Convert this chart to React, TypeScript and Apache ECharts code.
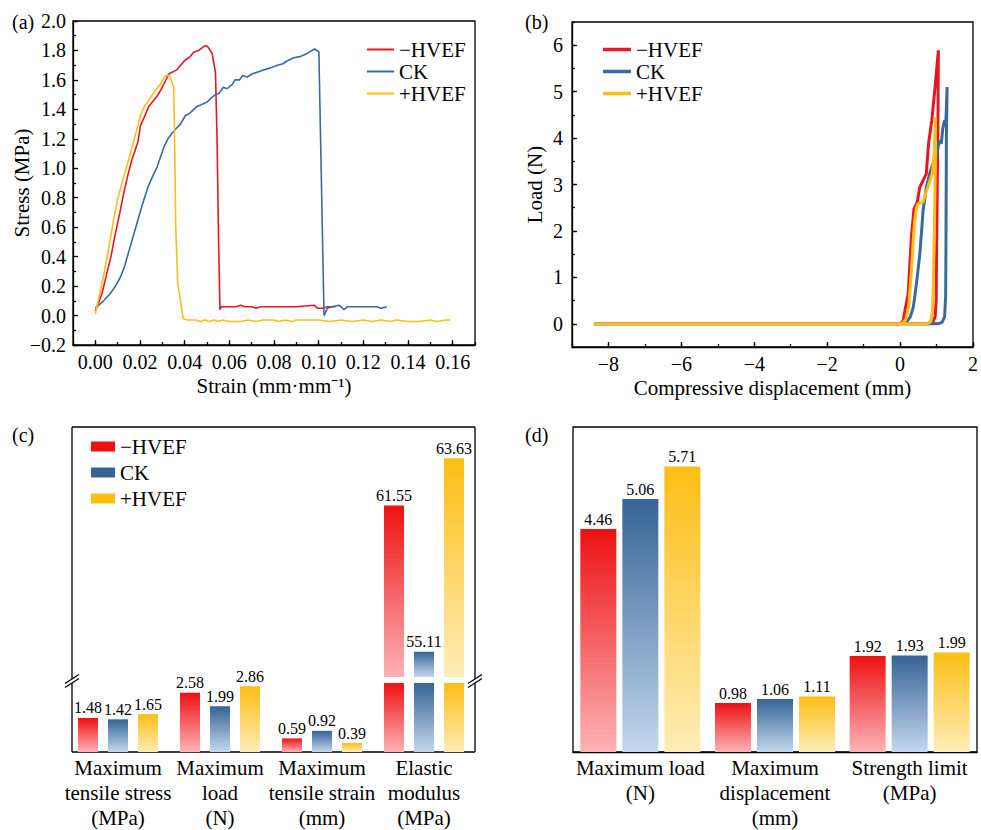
import React, { useEffect, useRef } from 'react';
import * as echarts from 'echarts';

const SERIF = "'Liberation Serif', 'Times New Roman', Times, serif";

const SERIES_NAMES = ['−HVEF', 'CK', '+HVEF'];
const LINE_COLORS = ['#EA1520', '#3A6A9D', '#FBBD1B'];
const BAR_TOP = ['#EE1112', '#356496', '#FDBE14'];
const BAR_BOTTOM = ['#FDB3B6', '#C4D7EE', '#FEEDB8'];

// (a) tensile stress–strain curves: [strain, stress]
const tensileNeg = [
  [0.0, 0.03], [0.003, 0.15], [0.0052, 0.29], [0.007, 0.4], [0.009, 0.56], [0.011, 0.7],
  [0.0127, 0.83], [0.0145, 0.95], [0.0164, 1.06], [0.018, 1.13], [0.0191, 1.18], [0.0202, 1.29],
  [0.022, 1.35], [0.0239, 1.42], [0.0277, 1.49], [0.03, 1.55], [0.0329, 1.64], [0.0366, 1.67],
  [0.0399, 1.73], [0.0426, 1.76], [0.0441, 1.79], [0.0463, 1.8], [0.0488, 1.83], [0.0501, 1.83],
  [0.0523, 1.78], [0.0538, 1.65], [0.0545, 1.2], [0.0552, 0.5], [0.0558, 0.04], [0.0565, 0.06],
  [0.06, 0.06], [0.063, 0.06], [0.065, 0.07], [0.067, 0.06], [0.07, 0.06], [0.072, 0.05],
  [0.074, 0.06], [0.08, 0.06], [0.09, 0.06], [0.0979, 0.07], [0.0995, 0.05], [0.102, 0.05],
  [0.104, 0.06], [0.1075, 0.06],
];
const tensileCK = [
  [0.0, 0.05], [0.0037, 0.1], [0.0067, 0.15], [0.009, 0.2], [0.0112, 0.26], [0.013, 0.33],
  [0.0149, 0.43], [0.0168, 0.53], [0.0187, 0.63], [0.021, 0.75], [0.0235, 0.87], [0.0255, 0.94],
  [0.0277, 1.01], [0.0306, 1.14], [0.0325, 1.2], [0.0344, 1.24], [0.0362, 1.27], [0.0381, 1.3],
  [0.0404, 1.36], [0.042, 1.37], [0.0434, 1.39], [0.0455, 1.42], [0.0471, 1.43], [0.0501, 1.45],
  [0.052, 1.48], [0.0538, 1.5], [0.0555, 1.51], [0.0573, 1.55], [0.059, 1.54], [0.0613, 1.57],
  [0.0625, 1.6], [0.0645, 1.6], [0.066, 1.63], [0.068, 1.62], [0.0701, 1.64], [0.074, 1.66],
  [0.078, 1.68], [0.0815, 1.7], [0.084, 1.71], [0.086, 1.73], [0.0889, 1.75], [0.092, 1.76],
  [0.0949, 1.78], [0.0982, 1.81], [0.1001, 1.79], [0.1024, 0.0], [0.1039, 0.05], [0.106, 0.06],
  [0.109, 0.07], [0.11, 0.06], [0.1113, 0.04], [0.113, 0.06], [0.12, 0.06], [0.126, 0.06],
  [0.128, 0.05], [0.1305, 0.06],
];
const tensilePos = [
  [0.0, 0.01], [0.002, 0.15], [0.0037, 0.27], [0.006, 0.46], [0.0082, 0.65], [0.01, 0.79],
  [0.0119, 0.9], [0.014, 1.01], [0.0157, 1.1], [0.018, 1.23], [0.0202, 1.36], [0.022, 1.42],
  [0.0239, 1.46], [0.0269, 1.53], [0.0291, 1.57], [0.0314, 1.63], [0.0333, 1.63], [0.0351, 1.55],
  [0.0355, 1.2], [0.036, 0.6], [0.0369, 0.22], [0.0393, -0.02], [0.0411, -0.03], [0.045, -0.03],
  [0.047, -0.04], [0.049, -0.03], [0.051, -0.04], [0.053, -0.03], [0.055, -0.04], [0.057, -0.03],
  [0.06, -0.04], [0.065, -0.04], [0.068, -0.03], [0.072, -0.04], [0.075, -0.03], [0.08, -0.03],
  [0.082, -0.04], [0.085, -0.03], [0.088, -0.04], [0.09, -0.03], [0.095, -0.03], [0.1, -0.03],
  [0.105, -0.04], [0.11, -0.03], [0.115, -0.04], [0.12, -0.03], [0.124, -0.04], [0.128, -0.03],
  [0.132, -0.04], [0.135, -0.03], [0.14, -0.04], [0.145, -0.04], [0.15, -0.03], [0.153, -0.04],
  [0.157, -0.03], [0.159, -0.03],
];
const strainTicks = [0, 0.02, 0.04, 0.06, 0.08, 0.1, 0.12, 0.14, 0.16];

// (b) compression load–displacement curves: [displacement, load]
const compressNeg = [
  [-8.4, 0], [-4, 0], [0, 0], [0.08, 0.06], [0.22, 0.64], [0.31, 1.86], [0.38, 2.47],
  [0.47, 2.62], [0.54, 2.94], [0.63, 3.09], [0.72, 3.23], [0.78, 3.88], [0.87, 4.38],
  [0.96, 5.1], [1.05, 5.89], [1.04, 4.5], [1.02, 3.0], [1.0, 1.5], [0.99, 0.5], [0.96, 0.15],
  [0.9, 0.03], [0.8, 0], [0, 0],
];
const compressCK = [
  [-8.4, 0], [-4, 0], [0, 0], [0.1, 0], [0.17, 0.03], [0.28, 0.15], [0.36, 0.35], [0.4, 0.57],
  [0.47, 1.0], [0.54, 1.5], [0.6, 2.1], [0.63, 2.44], [0.68, 2.7], [0.72, 2.94], [0.81, 3.23],
  [0.88, 3.4], [0.95, 3.55], [0.99, 3.59], [1.04, 3.8], [1.08, 3.95], [1.13, 3.88], [1.17, 4.2],
  [1.22, 4.38], [1.25, 4.24], [1.29, 5.1], [1.27, 4.0], [1.26, 2.0], [1.25, 0.6], [1.22, 0.15],
  [1.15, 0.03], [1.04, 0], [0, 0],
];
const compressPos = [
  [-8.4, 0], [-4, 0], [0, 0], [0.08, 0.02], [0.16, 0.1], [0.24, 0.4], [0.31, 1.14], [0.36, 1.8],
  [0.4, 2.22], [0.45, 2.5], [0.49, 2.58], [0.56, 2.6], [0.63, 2.62], [0.7, 2.8], [0.76, 2.94],
  [0.85, 3.16], [0.88, 3.23], [0.93, 3.59], [0.95, 4.0], [0.97, 4.45], [0.97, 3.5], [0.94, 2.0],
  [0.91, 0.8], [0.89, 0.3], [0.85, 0.06], [0.76, 0], [0, 0],
];
const dispTicks = [-8, -6, -4, -2, 0, 2];
const loadTicks = [0, 1, 2, 3, 4, 5, 6];

// (c) tensile property summary
const tensileCategories = [
  'Maximum\ntensile stress\n(MPa)',
  'Maximum\nload\n(N)',
  'Maximum\ntensile strain\n(mm)',
  'Elastic\nmodulus\n(MPa)',
];
const tensileNegValues = [1.48, 2.58, 0.59, 61.55];
const tensileCKValues = [1.42, 1.99, 0.92, 55.11];
const tensilePosValues = [1.65, 2.86, 0.39, 63.63];
const MODULUS_INDEX = 3;

// (d) compression property summary
const compressCategories = ['Maximum load\n(N)', 'Maximum\ndisplacement\n(mm)', 'Strength limit\n(MPa)'];
const compressNegValues = [4.46, 0.98, 1.92];
const compressCKValues = [5.06, 1.06, 1.93];
const compressPosValues = [5.71, 1.11, 1.99];

const BLACK = '#000';
const lineStyle = { color: BLACK, width: 1.3 };
const tickFont = { fontSize: 20, color: BLACK, fontFamily: SERIF };
const nameFont = { fontSize: 21, color: BLACK, fontFamily: SERIF };
const minus = (s: string) => s.replace('-', '−');

const gradient = (i: number) =>
  new echarts.graphic.LinearGradient(0, 0, 0, 1, [
    { offset: 0, color: BAR_TOP[i] },
    { offset: 1, color: BAR_BOTTOM[i] },
  ]);

const barLabel = {
  show: true,
  position: 'top',
  distance: 2,
  fontSize: 16,
  color: BLACK,
  fontFamily: SERIF,
};

function buildOption() {
  const tensileSets = [tensileNeg, tensileCK, tensilePos];
  const compressSets = [compressNeg, compressCK, compressPos];
  const cSets = [tensileNegValues, tensileCKValues, tensilePosValues];
  const dSets = [compressNegValues, compressCKValues, compressPosValues];

  const series: any[] = [];
  tensileSets.forEach((d, i) =>
    series.push({
      type: 'line', name: SERIES_NAMES[i], xAxisIndex: 0, yAxisIndex: 0, data: d,
      symbol: 'none', lineStyle: { color: LINE_COLORS[i], width: 1.6 }, itemStyle: { color: LINE_COLORS[i] },
    })
  );
  compressSets.forEach((d, i) =>
    series.push({
      type: 'line', name: SERIES_NAMES[i], xAxisIndex: 2, yAxisIndex: 2, data: d,
      symbol: 'none', lineStyle: { color: LINE_COLORS[i], width: 3 }, itemStyle: { color: LINE_COLORS[i] },
    })
  );
  // (c) upper segment: only the elastic modulus bars
  cSets.forEach((vals, i) =>
    series.push({
      type: 'bar', name: SERIES_NAMES[i], xAxisIndex: 4, yAxisIndex: 4,
      data: vals.map((v, k) => (k === MODULUS_INDEX ? v : '-')),
      barWidth: 20, barGap: '50%', itemStyle: { color: gradient(i) }, label: barLabel,
    })
  );
  // (c) lower segment: all bars, the modulus bars cut at the break
  cSets.forEach((vals, i) =>
    series.push({
      type: 'bar', name: SERIES_NAMES[i], xAxisIndex: 5, yAxisIndex: 5,
      data: vals.map((v, k) => (k === MODULUS_INDEX ? { value: v, label: { show: false } } : v)),
      barWidth: 20, barGap: '50%', itemStyle: { color: gradient(i) }, label: barLabel,
    })
  );
  dSets.forEach((vals, i) =>
    series.push({
      type: 'bar', name: SERIES_NAMES[i], xAxisIndex: 6, yAxisIndex: 6, data: vals,
      barWidth: 36, barGap: '16.7%', itemStyle: { color: gradient(i) }, label: barLabel,
    })
  );

  const hiddenValue = (gridIndex: number, min: number, max: number) => ({
    type: 'value', gridIndex, min, max, show: false, splitLine: { show: false },
  });

  // frame of panel (c) with break marks on both sides
  const fx0 = 72, fx1 = 475, fy0 = 427, fy1 = 752, gapTop = 679, gapBot = 683;
  const frameLine = (x1: number, y1: number, x2: number, y2: number) => ({
    type: 'line', shape: { x1, y1, x2, y2 }, style: { stroke: BLACK, lineWidth: 1.3 },
  });
  const breakMarks = (cx: number) => [
    frameLine(cx - 7, gapTop + 4.5, cx + 7, gapTop - 4.5),
    frameLine(cx - 7, gapBot + 4.5, cx + 7, gapBot - 4.5),
  ];
  const panelLabel = (text: string, x: number, y: number) => ({
    type: 'text', x, y, style: { text, fontSize: 20, fontFamily: SERIF, fill: BLACK },
  });

  const lineLegend = (left: number, width: number, thickness: number) => ({
    left, top: 34, orient: 'vertical', itemWidth: width, itemHeight: thickness, itemGap: 1,
    textStyle: { ...nameFont, lineHeight: 20 },
    data: SERIES_NAMES.map((n, i) => ({ name: n, icon: 'rect', itemStyle: { color: LINE_COLORS[i] } })),
    selectedMode: false,
  });

  return {
    animation: false,
    backgroundColor: '#fff',
    textStyle: { fontFamily: SERIF },
    grid: [
      { left: 73, top: 21, width: 402, height: 324, show: true, borderColor: BLACK, borderWidth: 1.3 },
      { left: 572, top: 22, width: 402, height: 325, show: true, borderColor: BLACK, borderWidth: 1.3 },
      { left: 67, top: 427, width: 408, height: 250 },
      { left: 67, top: 683, width: 408, height: 69 },
      { left: 573, top: 427, width: 404, height: 325, show: true, borderColor: BLACK, borderWidth: 1.3 },
    ],
    xAxis: [
      {
        type: 'value', gridIndex: 0, min: -0.01, max: 0.17, position: 'bottom',
        axisLine: { onZero: false, lineStyle },
        axisTick: { inside: true, length: 5, customValues: strainTicks, lineStyle },
        axisLabel: { ...tickFont, margin: 7, customValues: strainTicks, formatter: (v: number) => v.toFixed(2) },
        splitLine: { show: false },
        name: 'Strain (mm·mm⁻¹)', nameLocation: 'middle', nameGap: 30, nameTextStyle: nameFont,
      },
      {
        type: 'value', gridIndex: 0, min: -0.01, max: 0.17, interval: 0.01, position: 'bottom',
        axisLine: { show: false, onZero: false }, axisTick: { inside: true, length: 3, lineStyle },
        axisLabel: { show: false }, splitLine: { show: false },
      },
      {
        type: 'value', gridIndex: 1, min: -9, max: 2, position: 'bottom',
        axisLine: { onZero: false, lineStyle },
        axisTick: { inside: true, length: 5, customValues: dispTicks, lineStyle },
        axisLabel: { ...tickFont, margin: 7, customValues: dispTicks, formatter: (v: number) => minus(String(v)) },
        splitLine: { show: false },
        name: 'Compressive displacement (mm)', nameLocation: 'middle', nameGap: 30, nameTextStyle: nameFont,
      },
      {
        type: 'value', gridIndex: 1, min: -9, max: 2, interval: 1, position: 'bottom',
        axisLine: { show: false, onZero: false }, axisTick: { inside: true, length: 3, lineStyle },
        axisLabel: { show: false }, splitLine: { show: false },
      },
      { type: 'category', gridIndex: 2, data: tensileCategories, show: false },
      {
        type: 'category', gridIndex: 3, data: tensileCategories,
        axisLine: { show: false }, axisTick: { show: false },
        axisLabel: { ...nameFont, lineHeight: 25, margin: 3, interval: 0 },
      },
      {
        type: 'category', gridIndex: 4, data: compressCategories,
        axisLine: { lineStyle }, axisTick: { show: false },
        axisLabel: { ...nameFont, lineHeight: 25, margin: 3, interval: 0 },
      },
    ],
    yAxis: [
      {
        type: 'value', gridIndex: 0, min: -0.2, max: 2.0, interval: 0.2, position: 'left',
        axisLine: { onZero: false, lineStyle },
        axisTick: { inside: true, length: 5, lineStyle },
        minorTick: { show: true, splitNumber: 2, length: 3, lineStyle },
        axisLabel: { ...tickFont, margin: 7, formatter: (v: number) => minus(v.toFixed(1)) },
        splitLine: { show: false }, minorSplitLine: { show: false },
        name: 'Stress (MPa)', nameLocation: 'middle', nameGap: 41, nameRotate: 90,
        nameMoveOverlap: false, nameTextStyle: nameFont,
      },
      {
        type: 'value', gridIndex: 0, min: -0.2, max: 2.0, interval: 0.2, show: false, splitLine: { show: false },
      },
      {
        type: 'value', gridIndex: 1, min: -0.5, max: 6.5, position: 'left',
        axisLine: { onZero: false, lineStyle },
        axisTick: { inside: true, length: 5, customValues: loadTicks, lineStyle },
        axisLabel: { ...tickFont, margin: 9, customValues: loadTicks },
        splitLine: { show: false },
        name: 'Load (N)', nameLocation: 'middle', nameGap: 27, nameRotate: 90, nameTextStyle: nameFont,
      },
      {
        type: 'value', gridIndex: 1, min: -0.5, max: 6.5, interval: 0.5, position: 'left',
        axisLine: { show: false, onZero: false }, axisTick: { inside: true, length: 3, lineStyle },
        axisLabel: { show: false }, splitLine: { show: false },
      },
      hiddenValue(2, 54, 65),
      hiddenValue(3, 0, 3),
      hiddenValue(4, 0, 6.5),
    ],
    legend: [
      lineLegend(362, 27, 2),
      lineLegend(598, 28, 3.5),
      {
        left: 86, top: 431, orient: 'vertical', itemWidth: 24, itemHeight: 10, itemGap: 5,
        textStyle: { ...nameFont, lineHeight: 20 },
        data: SERIES_NAMES.map((n, i) => ({ name: n, icon: 'rect', itemStyle: { color: BAR_TOP[i] } })),
        selectedMode: false,
      },
    ],
    graphic: [
      panelLabel('(a)', 12, 12),
      panelLabel('(b)', 525, 12),
      panelLabel('(c)', 12, 425),
      panelLabel('(d)', 525, 425),
      frameLine(fx0, fy0, fx1, fy0),
      frameLine(fx0, fy1, fx1, fy1),
      frameLine(fx0, fy0, fx0, gapTop),
      frameLine(fx0, gapBot, fx0, fy1),
      frameLine(fx1, fy0, fx1, gapTop),
      frameLine(fx1, gapBot, fx1, fy1),
      ...breakMarks(fx0),
      ...breakMarks(fx1),
    ],
    series,
  };
}

export default function App() {
  const ref = useRef<HTMLDivElement>(null);
  useEffect(() => {
    if (!ref.current) return;
    const chart = echarts.init(ref.current, undefined, { renderer: 'svg' });
    chart.setOption(buildOption() as any);
    return () => chart.dispose();
  }, []);
  return (
    <div
      ref={ref}
      style={{ position: 'absolute', left: 0, top: 0, width: 981, height: 830, background: '#fff' }}
    />
  );
}
